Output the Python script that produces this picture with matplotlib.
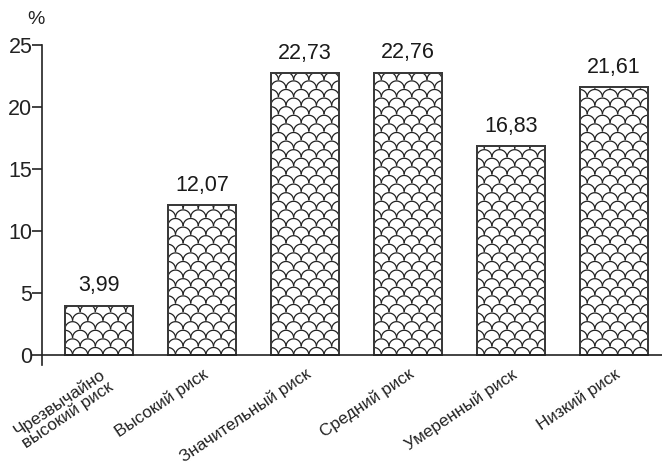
import numpy as np
import matplotlib.pyplot as plt
from matplotlib.path import Path
from matplotlib.collections import PathCollection
import matplotlib.patches as mpatches

plt.rcParams["font.family"] = ["Liberation Sans", "DejaVu Sans"]

# Chart data
categories = ["Чрезвычайно\nвысокий риск", "Высокий риск", "Значительный риск",
              "Средний риск", "Умеренный риск", "Низкий риск"]
values = [3.99, 12.07, 22.73, 22.76, 16.83, 21.61]
value_labels = ["3,99", "12,07", "22,73", "22,76", "16,83", "21,61"]
yticks = [0, 5, 10, 15, 20, 25]

DPI = 100
fig = plt.figure(figsize=(6.62, 4.66), dpi=DPI)
ax_left, ax_bottom, ax_right, ax_top = 42 / 662, 101 / 466, 1.0, 421 / 466
ax = fig.add_axes([ax_left, ax_bottom, ax_right - ax_left, ax_top - ax_bottom])

x = np.arange(len(categories))
xlim = (-0.553, 5.47)
ylim = (-0.8, 25)
ax.set_xlim(xlim)
ax.set_ylim(ylim)

bars = ax.bar(x, values, width=0.66, color="white", edgecolor="#3a3a3a", linewidth=1.4, zorder=2)

# Fish-scale fill pattern, built in pixel units and converted to data units
px_x = fig.get_figwidth() * DPI * (ax_right - ax_left) / (xlim[1] - xlim[0])
px_y = fig.get_figheight() * DPI * (ax_top - ax_bottom) / (ylim[1] - ylim[0])
r_px = 7.6
row_px = 8.6
theta = np.linspace(0, np.pi, 24)
for bar in bars:
    bx, bw, bh = bar.get_x(), bar.get_width(), bar.get_height()
    paths = []
    rows = int(bh * px_y / row_px) + 2
    for k in range(rows):
        yc = k * row_px / px_y
        shift = (k % 2) * r_px
        n = int(bw * px_x / (2 * r_px)) + 3
        for i in range(-1, n):
            xc = bx + (i * 2 * r_px + shift) / px_x
            pts = np.column_stack([xc + r_px * np.cos(theta) / px_x,
                                   yc + r_px * np.sin(theta) / px_y])
            paths.append(Path(pts))
    pc = PathCollection(paths, facecolor="none", edgecolor="#222222", linewidth=0.9, zorder=3)
    ax.add_collection(pc)
    pc.set_clip_path(bar)
    # redraw outline on top
    ax.add_patch(mpatches.Rectangle((bx, 0), bw, bh, fill=False, edgecolor="#3a3a3a",
                                    linewidth=1.4, zorder=4))

for xi, v, lab in zip(x, values, value_labels):
    ax.text(xi, v + 0.75, lab, ha="center", va="bottom", fontsize=15.5, color="#1a1a1a")

# Axes styling
for s in ["top", "right", "bottom"]:
    ax.spines[s].set_visible(False)
ax.spines["left"].set_bounds(ylim[0], 25)
ax.spines["left"].set_linewidth(1.2)
ax.spines["left"].set_color("#222222")
ax.axhline(0, color="#222222", linewidth=1.2, zorder=5)

ax.set_yticks(yticks)
ax.set_yticklabels([str(t) for t in yticks])
ax.tick_params(axis="y", direction="out", length=7, width=1.2, pad=0, labelsize=15.5, colors="#222222")
ax.tick_params(axis="x", length=0, pad=1)
ax.set_xticks(x)
ax.set_xticklabels(categories, rotation=34, ha="right", rotation_mode="anchor",
                   fontsize=12.3, multialignment="center", color="#222222", linespacing=0.95)

fig.text(36 / 662, 1 - 20 / 466, "%", ha="center", va="center", fontsize=14, color="#222222")

fig.savefig("out.png", dpi=DPI)
